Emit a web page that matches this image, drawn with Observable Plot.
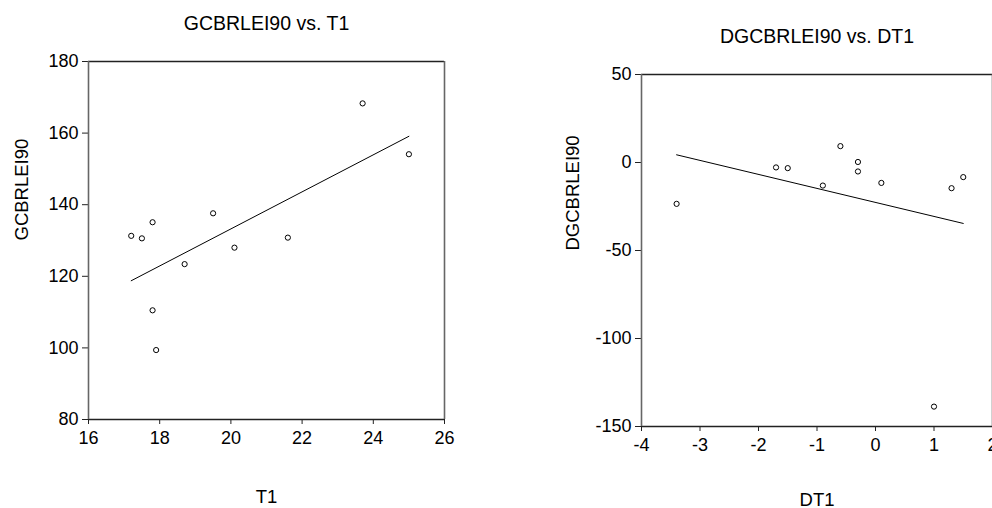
<!DOCTYPE html>
<html>
<head>
<meta charset="utf-8">
<script src="https://cdn.jsdelivr.net/npm/d3@7"></script>
<script src="https://cdn.jsdelivr.net/npm/@observablehq/plot@0.6"></script>
<style>
  html, body { margin: 0; padding: 0; background: #fff; }
  #wrap { position: relative; width: 992px; height: 508px; overflow: hidden; }
  #left, #right { position: absolute; top: 0; }
  #left { left: 0; width: 496px; }
  #right { left: 496px; width: 540px; }
  #wrap svg { max-width: none !important; display: block; }
</style>
</head>
<body>
<div id="wrap"><div id="left"></div><div id="right"></div></div>
<script>
// Levels: GCBRLEI90 against T1
const t1 = [17.2, 17.5, 17.8, 19.5, 20.1, 21.6, 23.7, 25.0, 18.7, 17.8, 17.9];
const gcbrlei90 = [131.3, 130.6, 135.1, 137.6, 128.0, 130.8, 168.3, 154.1, 123.4, 110.5, 99.4];

// First differences: DGCBRLEI90 against DT1
const dt1 = [-3.4, -1.7, -1.5, -0.9, -0.6, -0.3, -0.3, 0.1, 1.3, 1.5, 1.0];
const dgcbrlei90 = [-23.5, -2.8, -3.2, -13.1, 9.3, 0.3, -5.1, -11.6, -14.6, -8.3, -138.7];

const levelTicksX = [16, 18, 20, 22, 24, 26];
const levelTicksY = [80, 100, 120, 140, 160, 180];
const diffTicksX = [-4, -3, -2, -1, 0, 1, 2];
const diffTicksY = [-150, -100, -50, 0, 50];

// plain hyphen-minus, no trailing decimals
const fmt = d => String(d);

function scatter({xs, ys, xDomain, yDomain, xTicks, yTicks, title, xLabel, yLabel, width, margins, titleDy, xLabelDy, yLabelDx}) {
  const rows = xs.map((x, i) => ({x, y: ys[i]}));
  return Plot.plot({
    width,
    height: 508,
    ...margins,
    style: {fontFamily: "'Liberation Sans', Arial, sans-serif", fontSize: "18px", color: "#000", background: "#fff"},
    x: {domain: xDomain, label: null},
    y: {domain: yDomain, label: null},
    marks: [
      Plot.axisX({ticks: xTicks, tickFormat: fmt, tickSize: 5, tickPadding: 7, fontSize: 18, label: null, stroke: "#222"}),
      Plot.axisY({ticks: yTicks, tickFormat: fmt, tickSize: 6, tickPadding: 4, fontSize: 18, label: null, stroke: "#222"}),
      // frame: horizontal edges dark, vertical edges grey
      Plot.ruleY([yDomain[1]], {stroke: "#222", strokeWidth: 1.3}),
      Plot.ruleY([yDomain[0]], {stroke: "#222", strokeWidth: 1.3}),
      Plot.ruleX([xDomain[0]], {stroke: "#666", strokeWidth: 1.6}),
      Plot.ruleX([xDomain[1]], {stroke: "#666", strokeWidth: 1.6}),
      Plot.linearRegressionY(rows, {x: "x", y: "y", ci: 0, stroke: "#000", strokeWidth: 1}),
      Plot.dot(rows, {x: "x", y: "y", r: 2.6, stroke: "#000", strokeWidth: 1, fill: "none"}),
      Plot.text([title], {frameAnchor: "top", dy: titleDy, fontSize: 19.5, fill: "#000", lineAnchor: "bottom"}),
      Plot.text([xLabel], {frameAnchor: "bottom", dy: xLabelDy, fontSize: 18.5, fill: "#000", lineAnchor: "bottom"}),
      Plot.text([yLabel], {frameAnchor: "left", dx: yLabelDx, rotate: -90, fontSize: 18.5, fill: "#000", lineAnchor: "middle"})
    ]
  });
}

document.getElementById("left").append(scatter({
  xs: t1, ys: gcbrlei90,
  xDomain: [16, 26], yDomain: [80, 180],
  xTicks: levelTicksX, yTicks: levelTicksY,
  title: "GCBRLEI90 vs. T1", xLabel: "T1", yLabel: "GCBRLEI90",
  width: 496,
  margins: {marginLeft: 88, marginRight: 52, marginTop: 61, marginBottom: 89},
  titleDy: -32, xLabelDy: 83, yLabelDx: -66
}));

document.getElementById("right").append(scatter({
  xs: dt1, ys: dgcbrlei90,
  xDomain: [-4, 2], yDomain: [-150, 50],
  xTicks: diffTicksX, yTicks: diffTicksY,
  title: "DGCBRLEI90 vs. DT1", xLabel: "DT1", yLabel: "DGCBRLEI90",
  width: 540,
  margins: {marginLeft: 145, marginRight: 44, marginTop: 74, marginBottom: 82},
  titleDy: -32, xLabelDy: 79, yLabelDx: -68
}));
</script>
</body>
</html>
